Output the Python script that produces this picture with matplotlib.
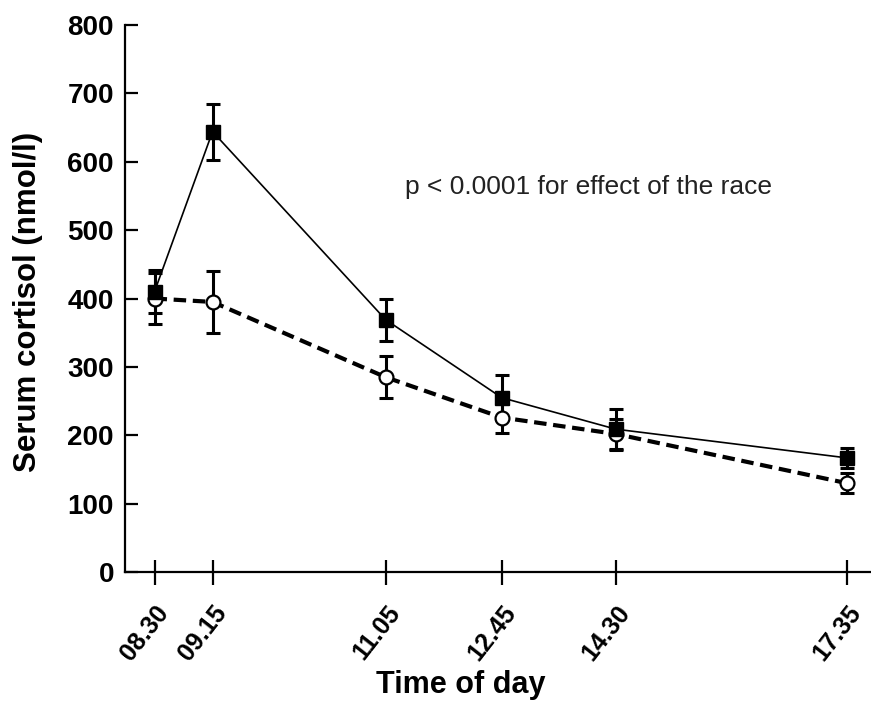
import matplotlib
matplotlib.use("Agg")
import matplotlib.pyplot as plt

plt.rcParams['font.family'] = ['Liberation Sans', 'DejaVu Sans']

time_labels = ["08.30", "09.15", "11.05", "12.45", "14.30", "17.35"]
x_pos = [0, 58, 231, 347, 461, 692]  # category positions along the time axis

race_mean = [410, 644, 369, 255, 209, 167]
race_err = [31, 41, 31, 33, 30, 15]
ctrl_mean = [400, 395, 285, 226, 202, 130]
ctrl_err = [37, 45, 31, 22, 22, 15]

fig = plt.figure(figsize=(8.71, 7.02), dpi=100)
ax = fig.add_axes([0.1435, 0.185, 0.856, 0.7795])

ax.errorbar(x_pos, ctrl_mean, yerr=ctrl_err, fmt='none', ecolor='black',
            elinewidth=2.2, capsize=5, capthick=2.2, zorder=2)
ax.errorbar(x_pos, race_mean, yerr=race_err, fmt='none', ecolor='black',
            elinewidth=2.2, capsize=5, capthick=2.2, zorder=2)
ax.plot(x_pos, ctrl_mean, color='black', linestyle=(0, (3, 1.6)), linewidth=3,
        marker='o', markersize=10, markerfacecolor='white', markeredgecolor='black',
        markeredgewidth=1.6, zorder=3)
ax.plot(x_pos, race_mean, color='black', linestyle='-', linewidth=1.2,
        marker='s', markersize=10, markerfacecolor='black', markeredgecolor='black',
        zorder=4)

ax.set_xlim(-29.5, 715.5)
ax.set_ylim(0, 800)
ax.set_yticks(range(0, 801, 100))
ax.set_xticks(x_pos)
ax.set_xticklabels(time_labels, rotation=52, ha='right', rotation_mode='anchor',
                   fontsize=18, fontweight='bold')
for lbl in ax.get_yticklabels():
    lbl.set_fontsize(20)
    lbl.set_fontweight('bold')

ax.spines['top'].set_visible(False)
ax.spines['right'].set_visible(False)
ax.spines['left'].set_linewidth(1.6)
ax.spines['bottom'].set_linewidth(1.6)
ax.tick_params(axis='y', direction='in', length=9, width=1.6, pad=8)
ax.tick_params(axis='x', direction='inout', length=18, width=1.6, pad=12)

ax.set_xlabel("Time of day", fontsize=22, fontweight='bold')
ax.xaxis.set_label_coords(0.45, -0.178)
ax.set_ylabel("Serum cortisol (nmol/l)", fontsize=22.5, fontweight='bold')
ax.yaxis.set_label_coords(-0.110, 0.494)

ax.text(250, 563, "p < 0.0001 for effect of the race", fontsize=19, va='center',
        ha='left', color='#222222')

fig.savefig("out.png", dpi=100)
